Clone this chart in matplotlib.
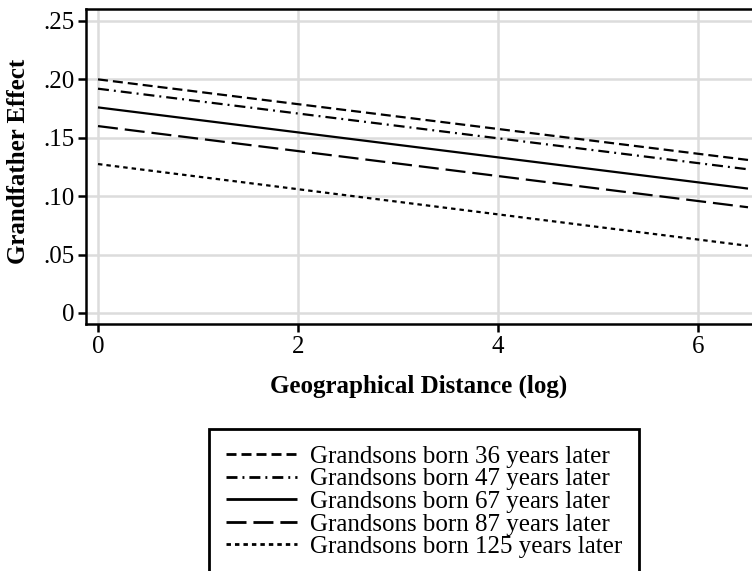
import numpy as np
import matplotlib.pyplot as plt

plt.rcParams['font.family'] = ['Liberation Serif', 'DejaVu Serif']
plt.rcParams['lines.scale_dashes'] = False

# data (effect at distance 0 and at 6.5)
x_ends = [0, 6.5]
labels = ['Grandsons born 36 years later',
          'Grandsons born 47 years later',
          'Grandsons born 67 years later',
          'Grandsons born 87 years later',
          'Grandsons born 125 years later']
start_vals = [0.200, 0.192, 0.176, 0.160, 0.1275]
end_vals = [0.131, 0.123, 0.1065, 0.0905, 0.0575]

x_ticks = [0, 2, 4, 6]
y_ticks = [0, 0.05, 0.10, 0.15, 0.20, 0.25]
y_ticklabels = ['0', '.05', '.10', '.15', '.20', '.25']

# dash patterns in points
styles = [(0, (7.2, 3.6)),
          (0, (7.9, 3.6, 1.4, 3.6)),
          '-',
          (0, (14.4, 5.0)),
          (0, (3.2, 2.9))]

FS = 18
W, H = 752, 571
fig = plt.figure(figsize=(W / 100, H / 100), dpi=100)
ax = fig.add_axes([86 / W, 1 - 324.3 / H, (W - 86) / W, (324.3 - 8.7) / H])

for i in range(len(labels)):
    ax.plot(x_ends, [start_vals[i], end_vals[i]], color='black',
            linewidth=1.6, linestyle=styles[i], label=labels[i],
            solid_capstyle='butt', dash_capstyle='butt')

ax.set_xlim(-0.12, 6.54)
ax.set_ylim(-0.0097, 0.2605)
ax.set_xticks(x_ticks)
ax.set_yticks(y_ticks)
ax.set_yticklabels(y_ticklabels)
ax.grid(True, color='#dcdcdc', linewidth=1.8)
ax.set_axisbelow(True)
ax.spines['right'].set_visible(False)
for s in ['left', 'bottom', 'top']:
    ax.spines[s].set_linewidth(1.8)
ax.tick_params(direction='out', length=5.5, width=1.8, labelsize=FS, pad=3)

ax.set_xlabel('Geographical Distance (log)', fontsize=FS, fontweight='bold', labelpad=12)
ax.set_ylabel('Grandfather Effect', fontsize=FS, fontweight='bold')
ax.yaxis.set_label_coords(-0.084, 0.516)

leg = fig.legend(loc='upper left', bbox_to_anchor=(209 / W, 1 - 429 / H),
                 bbox_transform=fig.transFigure, borderaxespad=0,
                 fontsize=FS, handlelength=2.84, handletextpad=0.56,
                 labelspacing=0.0, borderpad=0.66, fancybox=False,
                 framealpha=1)
leg.get_frame().set_edgecolor('black')
leg.get_frame().set_linewidth(2)
for h in leg.get_lines():
    h.set_linewidth(2.0)

fig.savefig('out.png', dpi=100)
